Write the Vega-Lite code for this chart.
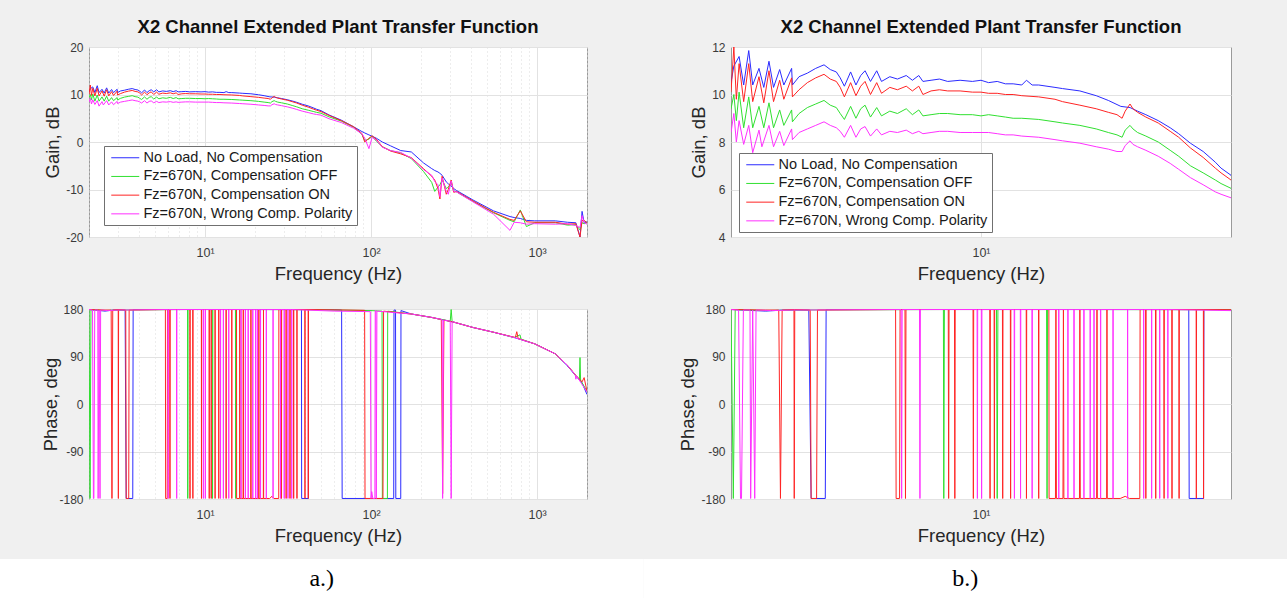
{
  "$schema": "https://vega.github.io/schema/vega-lite/v6.json",
  "background": "#f0f0f0",
  "padding": {"left": 0, "top": 17, "right": 0, "bottom": 0},
  "config": {
    "font": "Liberation Sans",
    "view": {"fill": "white", "stroke": "#9a9a9a", "strokeWidth": 1},
    "axis": {"labelFont": "Liberation Sans", "labelFontSize": 12, "labelColor": "#3a3a3a", "titleFont": "Liberation Sans", "titleFontSize": 18.5, "titleFontWeight": "normal", "titleColor": "#262626", "domain": false, "ticks": false, "gridColor": "#e2e2e2", "gridWidth": 1, "labelOverlap": false, "labelFlush": false},
    "title": {"font": "Liberation Sans", "fontSize": 18.5, "fontWeight": "bold", "color": "#111111", "offset": 5, "anchor": "middle"},
    "legend": {"orient": "none", "title": null, "symbolType": "M-0.75,0H3.92", "symbolSize": 144, "symbolStrokeWidth": 1, "labelFont": "Liberation Sans", "labelFontSize": 14.5, "labelColor": "#1a1a1a", "labelOffset": 20.5, "padding": 4.5, "rowPadding": 3.7, "fillColor": "white", "strokeColor": "#707070", "labelLimit": 400}
  },
  "datasets": {
    "caps": [{"c": "a.)"}, {"c": "b.)"}],
    "gain": [
      {"s":"b","f":2.0,"v":10.5},{"s":"b","f":2.037,"v":11.2},{"s":"b","f":2.107,"v":11.6},{"s":"b","f":2.17,"v":10.4},{"s":"b","f":2.242,"v":11.85},{"s":"b","f":2.3,"v":10.4},{"s":"b","f":2.395,"v":11.1},{"s":"b","f":2.47,"v":10.3},{"s":"b","f":2.554,"v":11.4},{"s":"b","f":2.63,"v":10.3},{"s":"b","f":2.736,"v":11.05},{"s":"b","f":2.81,"v":10.4},{"s":"b","f":2.955,"v":11.1},{"s":"b","f":2.97,"v":10.4},{"s":"b","f":3.1,"v":10.75},{"s":"b","f":3.27,"v":10.9},{"s":"b","f":3.45,"v":11.1},{"s":"b","f":3.64,"v":11.25},{"s":"b","f":3.79,"v":11.05},{"s":"b","f":3.94,"v":10.95},{"s":"b","f":4.04,"v":10.7},{"s":"b","f":4.15,"v":10.35},{"s":"b","f":4.32,"v":10.95},{"s":"b","f":4.47,"v":10.4},{"s":"b","f":4.61,"v":10.8},{"s":"b","f":4.74,"v":11.0},{"s":"b","f":4.91,"v":10.55},{"s":"b","f":5.11,"v":11.0},{"s":"b","f":5.27,"v":10.55},{"s":"b","f":5.56,"v":10.75},{"s":"b","f":5.84,"v":10.65},{"s":"b","f":6.18,"v":10.8},{"s":"b","f":6.43,"v":10.6},{"s":"b","f":6.7,"v":10.8},{"s":"b","f":6.88,"v":10.55},{"s":"b","f":7.25,"v":10.6},{"s":"b","f":7.65,"v":10.65},{"s":"b","f":8.07,"v":10.55},{"s":"b","f":8.74,"v":10.6},{"s":"b","f":9.46,"v":10.55},{"s":"b","f":10.0,"v":10.6},{"s":"b","f":10.5,"v":10.5},{"s":"b","f":11.1,"v":10.55},{"s":"b","f":11.7,"v":10.45},{"s":"b","f":12.3,"v":10.45},{"s":"b","f":13.0,"v":10.4},{"s":"b","f":13.4,"v":10.6},{"s":"b","f":13.9,"v":10.4},{"s":"b","f":14.5,"v":10.4},{"s":"b","f":16.1,"v":10.3},{"s":"b","f":16.9,"v":10.25},{"s":"b","f":18.9,"v":10.15},{"s":"b","f":21.0,"v":9.95},{"s":"b","f":22.7,"v":9.75},{"s":"b","f":24.6,"v":9.5},{"s":"b","f":26.1,"v":9.45},{"s":"b","f":27.4,"v":9.3},{"s":"b","f":28.9,"v":9.15},{"s":"b","f":31.3,"v":8.9},{"s":"b","f":33.8,"v":8.6},{"s":"b","f":35.7,"v":8.35},{"s":"b","f":38.5,"v":7.95},{"s":"b","f":41.8,"v":7.6},{"s":"b","f":45.2,"v":7.15},{"s":"b","f":46.9,"v":6.9},{"s":"b","f":50.0,"v":6.6},{"s":"b","f":55.8,"v":5.7},{"s":"b","f":66.2,"v":4.6},{"s":"b","f":78.6,"v":3.2},{"s":"b","f":88.1,"v":2.2},{"s":"b","f":91.7,"v":1.9},{"s":"b","f":97.1,"v":1.5},{"s":"b","f":101.6,"v":1.2},{"s":"b","f":107.6,"v":0.8},{"s":"b","f":117,"v":0.0},{"s":"b","f":131,"v":-0.8},{"s":"b","f":151,"v":-1.8},{"s":"b","f":175,"v":-2.1},{"s":"b","f":207,"v":-4.4},{"s":"b","f":232,"v":-5.6},{"s":"b","f":242,"v":-6.0},{"s":"b","f":253,"v":-6.3},{"s":"b","f":260,"v":-6.6},{"s":"b","f":268,"v":-7.0},{"s":"b","f":284,"v":-8.4},{"s":"b","f":292,"v":-8.8},{"s":"b","f":304,"v":-9.3},{"s":"b","f":315,"v":-9.8},{"s":"b","f":327,"v":-10.2},{"s":"b","f":411,"v":-12.2},{"s":"b","f":547,"v":-14.5},{"s":"b","f":687,"v":-15.7},{"s":"b","f":728,"v":-15.9},{"s":"b","f":793,"v":-16.1},{"s":"b","f":863,"v":-16.5},{"s":"b","f":968,"v":-16.6},{"s":"b","f":1289,"v":-16.6},{"s":"b","f":1528,"v":-16.9},{"s":"b","f":1714,"v":-17.0},{"s":"b","f":1815,"v":-20.0},{"s":"b","f":1868,"v":-14.6},{"s":"b","f":1922,"v":-17.0},{"s":"b","f":2000,"v":-16.8},
      {"s":"g","f":2.0,"v":9.4},{"s":"g","f":2.037,"v":10.0},{"s":"g","f":2.07,"v":8.9},{"s":"g","f":2.107,"v":10.1},{"s":"g","f":2.17,"v":8.6},{"s":"g","f":2.242,"v":9.9},{"s":"g","f":2.3,"v":8.6},{"s":"g","f":2.395,"v":9.5},{"s":"g","f":2.47,"v":8.6},{"s":"g","f":2.554,"v":9.65},{"s":"g","f":2.63,"v":8.6},{"s":"g","f":2.736,"v":9.35},{"s":"g","f":2.81,"v":8.7},{"s":"g","f":2.955,"v":9.35},{"s":"g","f":2.97,"v":8.85},{"s":"g","f":3.1,"v":9.2},{"s":"g","f":3.27,"v":9.45},{"s":"g","f":3.45,"v":9.6},{"s":"g","f":3.64,"v":9.75},{"s":"g","f":3.79,"v":9.55},{"s":"g","f":3.94,"v":9.45},{"s":"g","f":4.04,"v":9.2},{"s":"g","f":4.15,"v":8.95},{"s":"g","f":4.32,"v":9.5},{"s":"g","f":4.47,"v":9.0},{"s":"g","f":4.61,"v":9.4},{"s":"g","f":4.74,"v":9.55},{"s":"g","f":4.91,"v":9.05},{"s":"g","f":5.11,"v":9.45},{"s":"g","f":5.27,"v":9.1},{"s":"g","f":5.56,"v":9.3},{"s":"g","f":5.84,"v":9.2},{"s":"g","f":6.18,"v":9.4},{"s":"g","f":6.43,"v":9.15},{"s":"g","f":6.7,"v":9.35},{"s":"g","f":6.88,"v":9.1},{"s":"g","f":7.25,"v":9.15},{"s":"g","f":7.65,"v":9.2},{"s":"g","f":8.07,"v":9.2},{"s":"g","f":8.74,"v":9.15},{"s":"g","f":9.46,"v":9.15},{"s":"g","f":10.0,"v":9.1},{"s":"g","f":10.5,"v":9.15},{"s":"g","f":11.1,"v":9.1},{"s":"g","f":11.7,"v":9.05},{"s":"g","f":12.3,"v":9.0},{"s":"g","f":13.0,"v":9.0},{"s":"g","f":14.5,"v":8.95},{"s":"g","f":16.1,"v":8.85},{"s":"g","f":16.9,"v":8.8},{"s":"g","f":18.9,"v":8.7},{"s":"g","f":21.0,"v":8.55},{"s":"g","f":22.7,"v":8.4},{"s":"g","f":24.0,"v":8.3},{"s":"g","f":24.8,"v":8.2},{"s":"g","f":25.3,"v":8.5},{"s":"g","f":26.1,"v":8.7},{"s":"g","f":26.6,"v":8.55},{"s":"g","f":27.4,"v":8.4},{"s":"g","f":28.9,"v":8.25},{"s":"g","f":31.3,"v":8.0},{"s":"g","f":33.8,"v":7.65},{"s":"g","f":35.7,"v":7.4},{"s":"g","f":38.5,"v":7.0},{"s":"g","f":41.8,"v":6.7},{"s":"g","f":45.2,"v":6.4},{"s":"g","f":46.9,"v":6.25},{"s":"g","f":50.0,"v":6.05},{"s":"g","f":55.8,"v":5.3},{"s":"g","f":66.2,"v":4.4},{"s":"g","f":78.6,"v":3.1},{"s":"g","f":88.1,"v":1.6},{"s":"g","f":91.7,"v":0.3},{"s":"g","f":97.1,"v":0.6},{"s":"g","f":101.6,"v":1.2},{"s":"g","f":107.6,"v":0.2},{"s":"g","f":117,"v":-1.0},{"s":"g","f":131,"v":-1.8},{"s":"g","f":151,"v":-2.3},{"s":"g","f":175,"v":-3.5},{"s":"g","f":207,"v":-6.2},{"s":"g","f":232,"v":-8.5},{"s":"g","f":242,"v":-10.4},{"s":"g","f":253,"v":-9.5},{"s":"g","f":260,"v":-9.0},{"s":"g","f":268,"v":-8.0},{"s":"g","f":284,"v":-9.8},{"s":"g","f":292,"v":-9.5},{"s":"g","f":304,"v":-8.5},{"s":"g","f":315,"v":-10.3},{"s":"g","f":327,"v":-10.5},{"s":"g","f":411,"v":-12.5},{"s":"g","f":547,"v":-14.9},{"s":"g","f":687,"v":-16.5},{"s":"g","f":728,"v":-16.8},{"s":"g","f":793,"v":-14.3},{"s":"g","f":863,"v":-17.8},{"s":"g","f":968,"v":-17.0},{"s":"g","f":1289,"v":-17.0},{"s":"g","f":1528,"v":-17.5},{"s":"g","f":1714,"v":-17.4},{"s":"g","f":1815,"v":-18.5},{"s":"g","f":1868,"v":-17.0},{"s":"g","f":1922,"v":-17.2},{"s":"g","f":2000,"v":-17.0},
      {"s":"r","f":2.0,"v":10.1},{"s":"r","f":2.037,"v":12.0},{"s":"r","f":2.07,"v":9.8},{"s":"r","f":2.107,"v":11.3},{"s":"r","f":2.17,"v":9.7},{"s":"r","f":2.242,"v":11.3},{"s":"r","f":2.3,"v":9.7},{"s":"r","f":2.395,"v":10.75},{"s":"r","f":2.47,"v":9.65},{"s":"r","f":2.554,"v":11.0},{"s":"r","f":2.63,"v":9.7},{"s":"r","f":2.736,"v":10.6},{"s":"r","f":2.81,"v":9.8},{"s":"r","f":2.955,"v":10.7},{"s":"r","f":2.97,"v":9.9},{"s":"r","f":3.1,"v":10.2},{"s":"r","f":3.27,"v":10.5},{"s":"r","f":3.45,"v":10.7},{"s":"r","f":3.64,"v":10.85},{"s":"r","f":3.79,"v":10.65},{"s":"r","f":3.94,"v":10.55},{"s":"r","f":4.04,"v":10.3},{"s":"r","f":4.15,"v":9.9},{"s":"r","f":4.32,"v":10.5},{"s":"r","f":4.47,"v":9.95},{"s":"r","f":4.61,"v":10.35},{"s":"r","f":4.74,"v":10.55},{"s":"r","f":4.91,"v":10.0},{"s":"r","f":5.11,"v":10.5},{"s":"r","f":5.27,"v":10.05},{"s":"r","f":5.56,"v":10.3},{"s":"r","f":5.84,"v":10.2},{"s":"r","f":6.18,"v":10.35},{"s":"r","f":6.43,"v":10.15},{"s":"r","f":6.7,"v":10.35},{"s":"r","f":6.88,"v":10.0},{"s":"r","f":7.25,"v":10.15},{"s":"r","f":7.65,"v":10.2},{"s":"r","f":8.07,"v":10.15},{"s":"r","f":8.74,"v":10.15},{"s":"r","f":9.46,"v":10.1},{"s":"r","f":10.0,"v":10.1},{"s":"r","f":10.5,"v":10.05},{"s":"r","f":11.1,"v":10.05},{"s":"r","f":11.7,"v":10.0},{"s":"r","f":12.3,"v":10.0},{"s":"r","f":13.0,"v":9.95},{"s":"r","f":14.5,"v":9.9},{"s":"r","f":16.1,"v":9.8},{"s":"r","f":16.9,"v":9.7},{"s":"r","f":18.9,"v":9.55},{"s":"r","f":21.0,"v":9.4},{"s":"r","f":22.7,"v":9.25},{"s":"r","f":24.0,"v":9.15},{"s":"r","f":24.8,"v":9.0},{"s":"r","f":25.3,"v":9.3},{"s":"r","f":26.1,"v":9.6},{"s":"r","f":26.6,"v":9.4},{"s":"r","f":27.4,"v":9.25},{"s":"r","f":28.9,"v":9.05},{"s":"r","f":31.3,"v":8.8},{"s":"r","f":33.8,"v":8.45},{"s":"r","f":35.7,"v":8.2},{"s":"r","f":38.5,"v":7.75},{"s":"r","f":41.8,"v":7.35},{"s":"r","f":45.2,"v":6.9},{"s":"r","f":46.9,"v":6.7},{"s":"r","f":50.0,"v":6.4},{"s":"r","f":55.8,"v":5.6},{"s":"r","f":66.2,"v":4.5},{"s":"r","f":78.6,"v":3.2},{"s":"r","f":88.1,"v":1.8},{"s":"r","f":91.7,"v":0.0},{"s":"r","f":97.1,"v":0.8},{"s":"r","f":101.6,"v":1.3},{"s":"r","f":107.6,"v":0.6},{"s":"r","f":117,"v":-1.0},{"s":"r","f":131,"v":-1.9},{"s":"r","f":151,"v":-2.5},{"s":"r","f":175,"v":-3.3},{"s":"r","f":207,"v":-5.6},{"s":"r","f":232,"v":-7.2},{"s":"r","f":242,"v":-8.0},{"s":"r","f":253,"v":-9.8},{"s":"r","f":260,"v":-12.0},{"s":"r","f":268,"v":-7.2},{"s":"r","f":284,"v":-11.0},{"s":"r","f":292,"v":-10.0},{"s":"r","f":304,"v":-8.0},{"s":"r","f":315,"v":-10.6},{"s":"r","f":327,"v":-10.4},{"s":"r","f":411,"v":-12.4},{"s":"r","f":547,"v":-14.8},{"s":"r","f":687,"v":-16.3},{"s":"r","f":728,"v":-16.5},{"s":"r","f":793,"v":-14.5},{"s":"r","f":863,"v":-16.8},{"s":"r","f":968,"v":-16.9},{"s":"r","f":1289,"v":-16.9},{"s":"r","f":1528,"v":-17.3},{"s":"r","f":1714,"v":-17.2},{"s":"r","f":1815,"v":-20.0},{"s":"r","f":1868,"v":-16.5},{"s":"r","f":1922,"v":-16.5},{"s":"r","f":2000,"v":-17.0},
      {"s":"m","f":2.0,"v":8.4},{"s":"m","f":2.037,"v":9.2},{"s":"m","f":2.07,"v":8.0},{"s":"m","f":2.107,"v":8.9},{"s":"m","f":2.17,"v":7.9},{"s":"m","f":2.242,"v":8.7},{"s":"m","f":2.3,"v":7.55},{"s":"m","f":2.395,"v":8.5},{"s":"m","f":2.44,"v":7.8},{"s":"m","f":2.554,"v":8.7},{"s":"m","f":2.63,"v":7.8},{"s":"m","f":2.736,"v":8.45},{"s":"m","f":2.81,"v":7.85},{"s":"m","f":2.955,"v":8.55},{"s":"m","f":2.97,"v":8.1},{"s":"m","f":3.1,"v":8.4},{"s":"m","f":3.27,"v":8.55},{"s":"m","f":3.45,"v":8.7},{"s":"m","f":3.64,"v":8.85},{"s":"m","f":3.79,"v":8.7},{"s":"m","f":3.94,"v":8.6},{"s":"m","f":4.04,"v":8.45},{"s":"m","f":4.15,"v":8.2},{"s":"m","f":4.32,"v":8.7},{"s":"m","f":4.47,"v":8.2},{"s":"m","f":4.61,"v":8.55},{"s":"m","f":4.74,"v":8.65},{"s":"m","f":4.91,"v":8.25},{"s":"m","f":5.11,"v":8.55},{"s":"m","f":5.27,"v":8.3},{"s":"m","f":5.56,"v":8.45},{"s":"m","f":5.84,"v":8.4},{"s":"m","f":6.18,"v":8.5},{"s":"m","f":6.43,"v":8.35},{"s":"m","f":6.7,"v":8.45},{"s":"m","f":6.88,"v":8.35},{"s":"m","f":7.25,"v":8.4},{"s":"m","f":7.65,"v":8.45},{"s":"m","f":8.07,"v":8.45},{"s":"m","f":8.74,"v":8.4},{"s":"m","f":9.46,"v":8.4},{"s":"m","f":10.0,"v":8.4},{"s":"m","f":10.5,"v":8.4},{"s":"m","f":11.1,"v":8.35},{"s":"m","f":11.7,"v":8.3},{"s":"m","f":12.3,"v":8.3},{"s":"m","f":13.0,"v":8.25},{"s":"m","f":14.5,"v":8.2},{"s":"m","f":16.1,"v":8.1},{"s":"m","f":16.9,"v":8.05},{"s":"m","f":18.9,"v":7.95},{"s":"m","f":21.0,"v":7.8},{"s":"m","f":22.7,"v":7.7},{"s":"m","f":24.0,"v":7.6},{"s":"m","f":24.8,"v":7.6},{"s":"m","f":25.3,"v":7.85},{"s":"m","f":26.1,"v":8.05},{"s":"m","f":26.6,"v":7.9},{"s":"m","f":27.4,"v":7.8},{"s":"m","f":28.9,"v":7.65},{"s":"m","f":31.3,"v":7.4},{"s":"m","f":33.8,"v":7.1},{"s":"m","f":35.7,"v":6.85},{"s":"m","f":38.5,"v":6.5},{"s":"m","f":41.8,"v":6.2},{"s":"m","f":45.2,"v":5.9},{"s":"m","f":46.9,"v":5.8},{"s":"m","f":50.0,"v":5.65},{"s":"m","f":55.8,"v":4.9},{"s":"m","f":66.2,"v":4.1},{"s":"m","f":78.6,"v":2.9},{"s":"m","f":88.1,"v":1.7},{"s":"m","f":91.7,"v":0.8},{"s":"m","f":97.1,"v":-1.4},{"s":"m","f":101.6,"v":1.0},{"s":"m","f":107.6,"v":0.4},{"s":"m","f":117,"v":-1.1},{"s":"m","f":131,"v":-1.8},{"s":"m","f":151,"v":-2.2},{"s":"m","f":175,"v":-3.4},{"s":"m","f":207,"v":-5.8},{"s":"m","f":232,"v":-7.0},{"s":"m","f":242,"v":-8.3},{"s":"m","f":253,"v":-9.0},{"s":"m","f":260,"v":-11.5},{"s":"m","f":268,"v":-7.6},{"s":"m","f":284,"v":-10.4},{"s":"m","f":292,"v":-11.0},{"s":"m","f":304,"v":-8.2},{"s":"m","f":315,"v":-10.4},{"s":"m","f":327,"v":-10.5},{"s":"m","f":411,"v":-12.6},{"s":"m","f":547,"v":-15.2},{"s":"m","f":687,"v":-18.6},{"s":"m","f":728,"v":-16.9},{"s":"m","f":793,"v":-17.0},{"s":"m","f":863,"v":-17.3},{"s":"m","f":968,"v":-17.2},{"s":"m","f":1289,"v":-17.3},{"s":"m","f":1528,"v":-17.2},{"s":"m","f":1714,"v":-17.6},{"s":"m","f":1815,"v":-18.0},{"s":"m","f":1868,"v":-15.5},{"s":"m","f":1922,"v":-17.0},{"s":"m","f":2000,"v":-17.3}
    ],
    "phase": [
      {"s":"b","f":2.0,"v":179},{"s":"b","f":2.5,"v":176},{"s":"b","f":2.8,"v":178},{"s":"b","f":3.3,"v":178},{"s":"b","f":3.35,"v":-179},{"s":"b","f":3.67,"v":-179},{"s":"b","f":3.69,"v":179},{"s":"b","f":10,"v":179},{"s":"b","f":38.1,"v":179},{"s":"b","f":38.2,"v":-179},{"s":"b","f":41.9,"v":-179},{"s":"b","f":42.0,"v":179},{"s":"b","f":60,"v":178.5},{"s":"b","f":66.5,"v":178},{"s":"b","f":67,"v":-179},{"s":"b","f":100,"v":-179},{"s":"b","f":137,"v":-179},{"s":"b","f":137.5,"v":178},{"s":"b","f":140.5,"v":178},{"s":"b","f":141,"v":-179},{"s":"b","f":151,"v":-179},{"s":"b","f":151.5,"v":177},{"s":"b","f":175,"v":170.5},{"s":"b","f":232,"v":164},{"s":"b","f":316,"v":155},{"s":"b","f":411,"v":145},{"s":"b","f":547,"v":136},{"s":"b","f":728,"v":126},{"s":"b","f":968,"v":114},{"s":"b","f":1289,"v":95},{"s":"b","f":1528,"v":72},{"s":"b","f":1714,"v":53},{"s":"b","f":1868,"v":40},{"s":"b","f":2000,"v":18},
      {"s":"g","f":2.0,"v":179},{"s":"g","f":2.03,"v":-179},{"s":"g","f":2.055,"v":179},{"s":"g","f":2.5,"v":177},{"s":"g","f":3.0,"v":178},{"s":"g","f":7.85,"v":179},{"s":"g","f":7.87,"v":-179},{"s":"g","f":7.9,"v":179},{"s":"g","f":11.05,"v":179},{"s":"g","f":11.1,"v":-179},{"s":"g","f":11.15,"v":179},{"s":"g","f":15.25,"v":179},{"s":"g","f":15.3,"v":-179},{"s":"g","f":15.35,"v":179},{"s":"g","f":50,"v":178.5},{"s":"g","f":100,"v":177},{"s":"g","f":116.5,"v":176},{"s":"g","f":117,"v":-179},{"s":"g","f":125.5,"v":-179},{"s":"g","f":126,"v":176},{"s":"g","f":175,"v":170.5},{"s":"g","f":232,"v":164},{"s":"g","f":300,"v":157},{"s":"g","f":304,"v":179},{"s":"g","f":308,"v":156},{"s":"g","f":411,"v":145},{"s":"g","f":547,"v":136},{"s":"g","f":728,"v":126},{"s":"g","f":790,"v":131},{"s":"g","f":800,"v":123},{"s":"g","f":968,"v":114},{"s":"g","f":1289,"v":95},{"s":"g","f":1528,"v":73},{"s":"g","f":1714,"v":54},{"s":"g","f":1800,"v":47},{"s":"g","f":1815,"v":88},{"s":"g","f":1830,"v":45},{"s":"g","f":2000,"v":24},
      {"s":"r","f":2.0,"v":179},{"s":"r","f":2.5,"v":178},{"s":"r","f":2.72,"v":178},{"s":"r","f":2.75,"v":-179},{"s":"r","f":2.78,"v":178},{"s":"r","f":3.0,"v":179},{"s":"r","f":3.005,"v":-179},{"s":"r","f":3.015,"v":179},{"s":"r","f":3.33,"v":178},{"s":"r","f":3.35,"v":-179},{"s":"r","f":3.47,"v":-179},{"s":"r","f":3.49,"v":178},{"s":"r","f":5.77,"v":179},{"s":"r","f":5.79,"v":-179},{"s":"r","f":5.92,"v":-179},{"s":"r","f":5.94,"v":179},{"s":"r","f":6.13,"v":179},{"s":"r","f":6.15,"v":-179},{"s":"r","f":6.17,"v":179},{"s":"r","f":8.1,"v":179},{"s":"r","f":8.12,"v":-179},{"s":"r","f":8.14,"v":179},{"s":"r","f":8.43,"v":179},{"s":"r","f":8.45,"v":-179},{"s":"r","f":8.47,"v":179},{"s":"r","f":9.5,"v":179},{"s":"r","f":9.52,"v":-179},{"s":"r","f":9.54,"v":179},{"s":"r","f":10.58,"v":179},{"s":"r","f":10.6,"v":-179},{"s":"r","f":10.62,"v":179},{"s":"r","f":10.88,"v":179},{"s":"r","f":10.9,"v":-179},{"s":"r","f":10.92,"v":179},{"s":"r","f":11.48,"v":179},{"s":"r","f":11.5,"v":-179},{"s":"r","f":11.52,"v":179},{"s":"r","f":12.08,"v":179},{"s":"r","f":12.1,"v":-179},{"s":"r","f":12.12,"v":179},{"s":"r","f":13.38,"v":179},{"s":"r","f":13.4,"v":-179},{"s":"r","f":13.42,"v":179},{"s":"r","f":14.48,"v":179},{"s":"r","f":14.5,"v":-179},{"s":"r","f":14.52,"v":179},{"s":"r","f":15.48,"v":179},{"s":"r","f":15.5,"v":-179},{"s":"r","f":16.15,"v":-179},{"s":"r","f":16.2,"v":179},{"s":"r","f":16.25,"v":-179},{"s":"r","f":16.95,"v":-179},{"s":"r","f":17.0,"v":179},{"s":"r","f":17.05,"v":-179},{"s":"r","f":18.85,"v":-179},{"s":"r","f":18.9,"v":179},{"s":"r","f":18.95,"v":-179},{"s":"r","f":21.05,"v":-179},{"s":"r","f":21.1,"v":179},{"s":"r","f":21.15,"v":-179},{"s":"r","f":22.45,"v":-179},{"s":"r","f":22.5,"v":179},{"s":"r","f":22.55,"v":-179},{"s":"r","f":24.5,"v":-179},{"s":"r","f":25.3,"v":-175},{"s":"r","f":26.0,"v":-179},{"s":"r","f":27.8,"v":-179},{"s":"r","f":27.85,"v":179},{"s":"r","f":28.85,"v":179},{"s":"r","f":28.9,"v":-179},{"s":"r","f":28.95,"v":179},{"s":"r","f":30.75,"v":179},{"s":"r","f":30.8,"v":-179},{"s":"r","f":30.85,"v":179},{"s":"r","f":32.45,"v":179},{"s":"r","f":32.5,"v":-179},{"s":"r","f":32.55,"v":179},{"s":"r","f":34.15,"v":179},{"s":"r","f":34.2,"v":-179},{"s":"r","f":34.25,"v":179},{"s":"r","f":35.75,"v":179},{"s":"r","f":35.8,"v":-179},{"s":"r","f":35.85,"v":179},{"s":"r","f":39.95,"v":179},{"s":"r","f":40.0,"v":-179},{"s":"r","f":40.05,"v":179},{"s":"r","f":41.85,"v":179},{"s":"r","f":41.9,"v":-179},{"s":"r","f":41.95,"v":179},{"s":"r","f":91.5,"v":177.5},{"s":"r","f":92,"v":-179},{"s":"r","f":118,"v":-179},{"s":"r","f":119,"v":176},{"s":"r","f":175,"v":170.5},{"s":"r","f":232,"v":164},{"s":"r","f":265,"v":160},{"s":"r","f":270,"v":-170},{"s":"r","f":275,"v":159},{"s":"r","f":316,"v":155},{"s":"r","f":411,"v":145},{"s":"r","f":547,"v":136},{"s":"r","f":740,"v":126},{"s":"r","f":755,"v":137},{"s":"r","f":770,"v":124},{"s":"r","f":968,"v":114},{"s":"r","f":1289,"v":95},{"s":"r","f":1528,"v":73},{"s":"r","f":1714,"v":54},{"s":"r","f":1868,"v":42},{"s":"r","f":1922,"v":50},{"s":"r","f":2000,"v":24},
      {"s":"m","f":2.0,"v":179},{"s":"m","f":2.1,"v":178},{"s":"m","f":2.126,"v":-179},{"s":"m","f":2.14,"v":-179},{"s":"m","f":2.166,"v":178},{"s":"m","f":2.26,"v":178},{"s":"m","f":2.27,"v":-179},{"s":"m","f":2.3,"v":178},{"s":"m","f":2.33,"v":-179},{"s":"m","f":2.35,"v":178},{"s":"m","f":2.6,"v":177},{"s":"m","f":3.0,"v":178},{"s":"m","f":5.98,"v":179},{"s":"m","f":6.0,"v":-179},{"s":"m","f":6.02,"v":179},{"s":"m","f":6.73,"v":179},{"s":"m","f":6.75,"v":-179},{"s":"m","f":6.77,"v":179},{"s":"m","f":9.75,"v":179},{"s":"m","f":9.77,"v":-179},{"s":"m","f":9.79,"v":179},{"s":"m","f":10.02,"v":179},{"s":"m","f":10.04,"v":-179},{"s":"m","f":10.06,"v":179},{"s":"m","f":12.38,"v":179},{"s":"m","f":12.4,"v":-179},{"s":"m","f":12.42,"v":179},{"s":"m","f":12.88,"v":179},{"s":"m","f":12.9,"v":-179},{"s":"m","f":12.92,"v":179},{"s":"m","f":13.88,"v":179},{"s":"m","f":13.9,"v":-179},{"s":"m","f":13.92,"v":179},{"s":"m","f":16.48,"v":179},{"s":"m","f":16.5,"v":-179},{"s":"m","f":16.52,"v":179},{"s":"m","f":17.48,"v":179},{"s":"m","f":17.5,"v":-179},{"s":"m","f":17.52,"v":179},{"s":"m","f":18.18,"v":179},{"s":"m","f":18.2,"v":-179},{"s":"m","f":18.22,"v":179},{"s":"m","f":19.38,"v":179},{"s":"m","f":19.4,"v":-179},{"s":"m","f":19.42,"v":179},{"s":"m","f":20.18,"v":179},{"s":"m","f":20.2,"v":-179},{"s":"m","f":20.22,"v":179},{"s":"m","f":20.68,"v":179},{"s":"m","f":20.7,"v":-179},{"s":"m","f":20.72,"v":179},{"s":"m","f":21.58,"v":179},{"s":"m","f":21.6,"v":-179},{"s":"m","f":21.62,"v":179},{"s":"m","f":23.38,"v":179},{"s":"m","f":23.4,"v":-179},{"s":"m","f":23.42,"v":179},{"s":"m","f":25.68,"v":179},{"s":"m","f":25.7,"v":-179},{"s":"m","f":25.72,"v":179},{"s":"m","f":28.48,"v":179},{"s":"m","f":28.5,"v":-179},{"s":"m","f":28.52,"v":179},{"s":"m","f":29.98,"v":179},{"s":"m","f":30.0,"v":-179},{"s":"m","f":30.02,"v":179},{"s":"m","f":31.58,"v":179},{"s":"m","f":31.6,"v":-179},{"s":"m","f":31.62,"v":179},{"s":"m","f":33.28,"v":179},{"s":"m","f":33.3,"v":-179},{"s":"m","f":33.32,"v":179},{"s":"m","f":60,"v":176},{"s":"m","f":99,"v":175},{"s":"m","f":100,"v":-179},{"s":"m","f":101,"v":-166},{"s":"m","f":102.5,"v":-179},{"s":"m","f":105.5,"v":-179},{"s":"m","f":106,"v":177},{"s":"m","f":107,"v":177},{"s":"m","f":107.5,"v":-179},{"s":"m","f":108.5,"v":176},{"s":"m","f":175,"v":170.5},{"s":"m","f":232,"v":164},{"s":"m","f":268,"v":160},{"s":"m","f":270,"v":-179},{"s":"m","f":273,"v":159},{"s":"m","f":300,"v":157},{"s":"m","f":304,"v":-179},{"s":"m","f":308,"v":156},{"s":"m","f":411,"v":145},{"s":"m","f":547,"v":136},{"s":"m","f":728,"v":126},{"s":"m","f":968,"v":114},{"s":"m","f":1289,"v":95},{"s":"m","f":1528,"v":73},{"s":"m","f":1700,"v":55},{"s":"m","f":1714,"v":47},{"s":"m","f":1730,"v":53},{"s":"m","f":2000,"v":23}
    ]
  },
  "resolve": {"scale": {"color": "independent"}, "legend": {"color": "independent"}},
  "spacing": 14,
  "vconcat": [
    {
      "resolve": {"scale": {"color": "independent"}, "legend": {"color": "independent"}},
      "spacing": 90,
      "hconcat": [
        {
          "resolve": {"scale": {"color": "independent"}, "legend": {"color": "independent"}},
          "spacing": 19,
          "vconcat": [
            {
              "width": 498, "height": 190,
              "title": {"text": "X2 Channel Extended Plant Transfer Function"},
              "data": {"name": "gain"},
              "mark": {"type": "line", "clip": true, "strokeWidth": 1},
              "encoding": {
                "x": {"field": "f", "type": "quantitative", "title": "Frequency (Hz)",
                  "scale": {"type": "log", "domain": [2, 2000], "nice": false},
                  "axis": {"values": [2,3,4,5,6,7,8,9,10,20,30,40,50,60,70,80,90,100,200,300,400,500,600,700,800,900,1000,2000],
                    "labelExpr": "datum.value == 10 ? '10¹' : datum.value == 100 ? '10²' : datum.value == 1000 ? '10³' : ''",
                    "labelFontSize": 12.5, "labelPadding": 9.5, "titlePadding": 5,
                    "gridDash": {"condition": {"test": "datum.value == 10 || datum.value == 100 || datum.value == 1000", "value": []}, "value": [1, 3]},
                    "gridColor": {"condition": {"test": "datum.value == 10 || datum.value == 100 || datum.value == 1000", "value": "#e2e2e2"}, "value": "#dadada"}}},
                "y": {"field": "v", "type": "quantitative", "title": "Gain, dB",
                  "scale": {"domain": [-20, 20], "nice": false},
                  "axis": {"values": [-20, -10, 0, 10, 20], "labelExpr": "'' + datum.value", "labelPadding": 6, "titlePadding": 3}},
                "color": {"field": "s", "type": "nominal",
                  "scale": {"domain": ["b", "g", "r", "m"], "range": ["#2b2bff", "#30e030", "#ff2424", "#ff30ff"]},
                  "legend": {"legendX": 15, "legendY": 99,
                    "labelExpr": "datum.value == 'b' ? 'No Load, No Compensation' : datum.value == 'g' ? 'Fz=670N, Compensation OFF' : datum.value == 'r' ? 'Fz=670N, Compensation ON' : 'Fz=670N, Wrong Comp. Polarity'"}}
              }
            },
            {
              "width": 498, "height": 190,
              "data": {"name": "phase"},
              "mark": {"type": "line", "clip": true, "strokeWidth": 1},
              "encoding": {
                "x": {"field": "f", "type": "quantitative", "title": "Frequency (Hz)",
                  "scale": {"type": "log", "domain": [2, 2000], "nice": false},
                  "axis": {"values": [2,3,4,5,6,7,8,9,10,20,30,40,50,60,70,80,90,100,200,300,400,500,600,700,800,900,1000,2000],
                    "labelExpr": "datum.value == 10 ? '10¹' : datum.value == 100 ? '10²' : datum.value == 1000 ? '10³' : ''",
                    "labelFontSize": 12.5, "labelPadding": 9.5, "titlePadding": 5,
                    "gridDash": {"condition": {"test": "datum.value == 10 || datum.value == 100 || datum.value == 1000", "value": []}, "value": [1, 3]},
                    "gridColor": {"condition": {"test": "datum.value == 10 || datum.value == 100 || datum.value == 1000", "value": "#e2e2e2"}, "value": "#dadada"}}},
                "y": {"field": "v", "type": "quantitative", "title": "Phase, deg",
                  "scale": {"domain": [-180, 180], "nice": false},
                  "axis": {"values": [-180, -90, 0, 90, 180], "labelExpr": "'' + datum.value", "labelPadding": 6, "titlePadding": -2}},
                "color": {"field": "s", "type": "nominal",
                  "scale": {"domain": ["b", "g", "r", "m"], "range": ["#2b2bff", "#30e030", "#ff2424", "#ff30ff"]},
                  "legend": null}
              }
            }
          ]
        },
        {
          "resolve": {"scale": {"color": "independent"}, "legend": {"color": "independent"}},
          "spacing": 19,
          "vconcat": [
            {
              "width": 500, "height": 190,
              "title": {"text": "X2 Channel Extended Plant Transfer Function"},
              "data": {"name": "gain"},
              "mark": {"type": "line", "clip": true, "strokeWidth": 1},
              "encoding": {
                "x": {"field": "f", "type": "quantitative", "title": "Frequency (Hz)",
                  "scale": {"type": "log", "domain": [2, 50], "nice": false},
                  "axis": {"values": [10], "labelExpr": "'10¹'", "labelFontSize": 12.5, "labelPadding": 9.5, "titlePadding": 5}},
                "y": {"field": "v", "type": "quantitative", "title": "Gain, dB",
                  "scale": {"domain": [4, 12], "nice": false},
                  "axis": {"values": [4, 6, 8, 10, 12], "labelExpr": "'' + datum.value", "labelPadding": 6, "titlePadding": 3}},
                "color": {"field": "s", "type": "nominal",
                  "scale": {"domain": ["b", "g", "r", "m"], "range": ["#2b2bff", "#30e030", "#ff2424", "#ff30ff"]},
                  "legend": {"legendX": 8, "legendY": 106,
                    "labelExpr": "datum.value == 'b' ? 'No Load, No Compensation' : datum.value == 'g' ? 'Fz=670N, Compensation OFF' : datum.value == 'r' ? 'Fz=670N, Compensation ON' : 'Fz=670N, Wrong Comp. Polarity'"}}
              }
            },
            {
              "width": 500, "height": 190,
              "data": {"name": "phase"},
              "mark": {"type": "line", "clip": true, "strokeWidth": 1},
              "encoding": {
                "x": {"field": "f", "type": "quantitative", "title": "Frequency (Hz)",
                  "scale": {"type": "log", "domain": [2, 50], "nice": false},
                  "axis": {"values": [10], "labelExpr": "'10¹'", "labelFontSize": 12.5, "labelPadding": 9.5, "titlePadding": 5}},
                "y": {"field": "v", "type": "quantitative", "title": "Phase, deg",
                  "scale": {"domain": [-180, 180], "nice": false},
                  "axis": {"values": [-180, -90, 0, 90, 180], "labelExpr": "'' + datum.value", "labelPadding": 6, "titlePadding": 3}},
                "color": {"field": "s", "type": "nominal",
                  "scale": {"domain": ["b", "g", "r", "m"], "range": ["#2b2bff", "#30e030", "#ff2424", "#ff30ff"]},
                  "legend": null}
              }
            }
          ]
        }
      ]
    },
    {
      "width": 1198, "height": 39,
      "view": {"fill": null, "stroke": null},
      "data": {"name": "caps"},
      "encoding": {
        "x": {"field": "c", "type": "nominal", "axis": null,
          "scale": {"range": [-89, 1198], "paddingInner": 0, "paddingOuter": 0}}
      },
      "layer": [
        {"mark": {"type": "rect", "fill": "white", "stroke": null}},
        {"mark": {"type": "text", "font": "Liberation Serif", "fontSize": 24, "color": "#000000"}, "encoding": {"text": {"field": "c", "type": "nominal"}}}
      ]
    }
  ]
}
